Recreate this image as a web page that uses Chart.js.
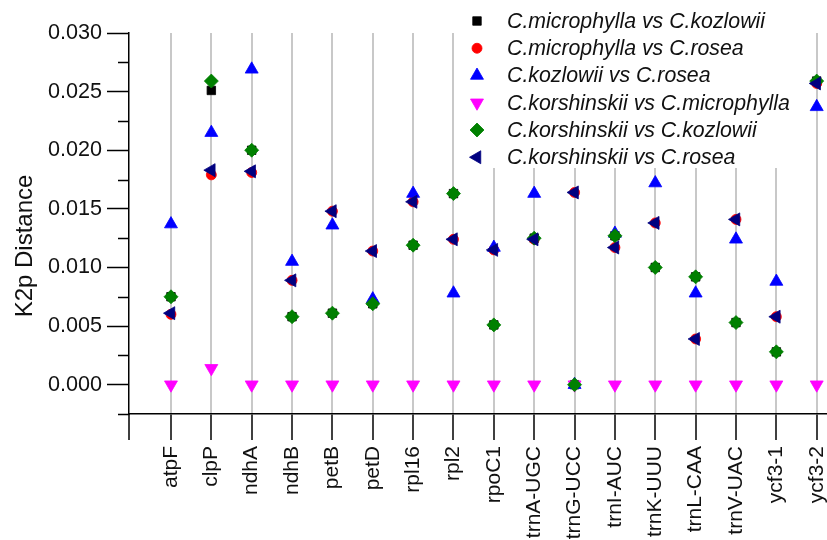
<!DOCTYPE html>
<html>
<head>
<meta charset="utf-8">
<script src="https://cdn.jsdelivr.net/npm/chart.js"></script>
<style>
  html, body { margin: 0; padding: 0; background: #ffffff; }
  #wrap { width: 827px; height: 540px; }
</style>
</head>
<body>
<div id="wrap"><canvas id="k2p" width="827" height="540"></canvas></div>
<script>
// Genes / intergenic regions on the x axis
const categories = ['atpF', 'clpP', 'ndhA', 'ndhB', 'petB', 'petD', 'rpl16', 'rpl2', 'rpoC1',
  'trnA-UGC', 'trnG-UCC', 'trnI-AUC', 'trnK-UUU', 'trnL-CAA', 'trnV-UAC', 'ycf3-1', 'ycf3-2'];

// Pairwise K2p distances per region
const microphyllaVsKozlowii = [0.0075, 0.0251, 0.0200, 0.0058, 0.0061, 0.0069, 0.0119, 0.0163, 0.0051,
  0.0125, 0.0000, 0.0127, 0.0100, 0.0092, 0.0053, 0.0028, 0.0259];
const microphyllaVsRosea = [0.0060, 0.0179, 0.0181, 0.0089, 0.0148, 0.0114, 0.0156, 0.0124, 0.0115,
  0.0124, 0.0164, 0.0117, 0.0138, 0.0039, 0.0141, 0.0058, 0.0257];
const kozlowiiVsRosea = [0.0137, 0.0215, 0.0269, 0.0105, 0.0136, 0.0073, 0.0163, 0.0078, 0.0117,
  0.0163, 0.0000, 0.0129, 0.0172, 0.0078, 0.0124, 0.0088, 0.0237];
const korshinskiiVsMicrophylla = [0.0000, 0.0014, 0.0000, 0.0000, 0.0000, 0.0000, 0.0000, 0.0000, 0.0000,
  0.0000, 0.0000, 0.0000, 0.0000, 0.0000, 0.0000, 0.0000, 0.0000];
const korshinskiiVsKozlowii = [0.0075, 0.0259, 0.0200, 0.0058, 0.0061, 0.0069, 0.0119, 0.0163, 0.0051,
  0.0125, 0.0000, 0.0127, 0.0100, 0.0092, 0.0053, 0.0028, 0.0259];
const korshinskiiVsRosea = [0.0061, 0.0183, 0.0182, 0.0089, 0.0148, 0.0114, 0.0156, 0.0124, 0.0115,
  0.0124, 0.0164, 0.0117, 0.0138, 0.0039, 0.0141, 0.0058, 0.0257];

const seriesNames = ['C.microphylla vs C.kozlowii', 'C.microphylla vs C.rosea', 'C.kozlowii vs C.rosea',
  'C.korshinskii vs C.microphylla', 'C.korshinskii vs C.kozlowii', 'C.korshinskii vs C.rosea'];

// Major y ticks (labelled) and the minor ticks between them
const yMajorTicks = [0.000, 0.005, 0.010, 0.015, 0.020, 0.025, 0.030];
const yMinorTicks = [-0.0025, 0.0025, 0.0075, 0.0125, 0.0175, 0.0225, 0.0275];

const FONT = '"Liberation Sans", Arial, sans-serif';

const seriesStyles = [
  { color: '#000000', pointStyle: 'rect', rotation: 0, radius: 6 },
  { color: '#ff0000', pointStyle: 'circle', rotation: 0, radius: 5 },
  { color: '#0000ff', pointStyle: 'triangle', rotation: 0, radius: 7.5 },
  { color: '#ff00ff', pointStyle: 'triangle', rotation: 180, radius: 7.5 },
  { color: '#008000', pointStyle: 'rectRot', rotation: 0, radius: 7 },
  { color: '#000080', pointStyle: 'triangle', rotation: -90, radius: 7.5 }
];

const seriesValues = [microphyllaVsKozlowii, microphyllaVsRosea, kozlowiiVsRosea,
  korshinskiiVsMicrophylla, korshinskiiVsKozlowii, korshinskiiVsRosea];

const datasets = seriesValues.map((vals, i) => ({
  label: seriesNames[i],
  data: categories.map((c, k) => ({ x: k, y: vals[k] })),
  pointStyle: seriesStyles[i].pointStyle,
  rotation: seriesStyles[i].rotation,
  pointRadius: seriesStyles[i].radius,
  backgroundColor: seriesStyles[i].color,
  borderColor: seriesStyles[i].color,
  borderWidth: 0.8,
  showLine: false,
  order: seriesValues.length - 1 - i   // later series drawn on top
}));

// Legend box in the upper right, drawn over the grid lines
const legendBox = { left: 466, top: 0, right: 806, bottom: 168, markerX: 477, textX: 507, firstRow: 21, rowStep: 27.25 };

const boxLegend = {
  id: 'boxLegend',
  beforeDatasetsDraw(chart) {
    const ctx = chart.ctx;
    ctx.save();
    ctx.fillStyle = '#ffffff';
    ctx.fillRect(legendBox.left, legendBox.top, legendBox.right - legendBox.left, legendBox.bottom - legendBox.top);
    ctx.restore();
  },
  afterDatasetsDraw(chart) {
    const ctx = chart.ctx;
    ctx.save();
    seriesNames.forEach((name, i) => {
      const y = legendBox.firstRow + legendBox.rowStep * i;
      const st = seriesStyles[i];
      ctx.fillStyle = st.color;
      ctx.strokeStyle = st.color;
      ctx.lineWidth = 0.8;
      Chart.helpers.drawPoint(ctx, { pointStyle: st.pointStyle, rotation: st.rotation, radius: st.radius, borderWidth: 0.8 }, legendBox.markerX, y);
      ctx.fillStyle = '#111111';
      ctx.font = 'italic 21.3px ' + FONT;
      ctx.textAlign = 'left';
      ctx.textBaseline = 'middle';
      ctx.fillText(name, legendBox.textX, y + 1);
    });
    ctx.restore();
  }
};

// Axis decorations: minor y ticks, y axis stub below the x axis, rotated y title
const axisExtras = {
  id: 'axisExtras',
  afterDraw(chart) {
    const ctx = chart.ctx;
    const area = chart.chartArea;
    const yScale = chart.scales.y;
    ctx.save();
    ctx.strokeStyle = '#000000';
    ctx.lineWidth = 1.5;
    ctx.beginPath();
    yMinorTicks.forEach(v => {
      const py = Math.round(yScale.getPixelForValue(v)) + 0.5;
      ctx.moveTo(area.left - 11, py);
      ctx.lineTo(area.left, py);
    });
    ctx.moveTo(area.left, area.bottom);
    ctx.lineTo(area.left, area.bottom + 26);
    ctx.stroke();

    ctx.translate(25, 246);
    ctx.rotate(-Math.PI / 2);
    ctx.fillStyle = '#111111';
    ctx.font = '24px ' + FONT;
    ctx.textAlign = 'center';
    ctx.textBaseline = 'middle';
    ctx.fillText('K2p Distance', 0, 0);
    ctx.restore();
  }
};

new Chart(document.getElementById('k2p'), {
  type: 'scatter',
  data: { datasets },
  plugins: [boxLegend, axisExtras],
  options: {
    responsive: false,
    devicePixelRatio: 1,
    animation: false,
    layout: { autoPadding: false, padding: { top: 33, right: 0, bottom: 0, left: 0 } },
    plugins: {
      legend: { display: false },
      tooltip: { enabled: false }
    },
    scales: {
      x: {
        type: 'linear',
        min: -1.04,
        max: 16.255,
        afterBuildTicks: s => { s.ticks = categories.map((c, k) => ({ value: k })); },
        afterFit: s => { s.height = 126; s.paddingLeft = 0; s.paddingRight = 0; },
        grid: { color: '#c8c8c8', lineWidth: 2, tickColor: '#000000', tickWidth: 1.5, tickLength: 26 },
        border: { color: '#000000', width: 1.5 },
        ticks: {
          autoSkip: false, maxRotation: 90, minRotation: 90, padding: 6,
          color: '#111111', font: { family: FONT, size: 21 },
          callback: v => categories[v] ?? ''
        }
      },
      y: {
        min: -0.0025,
        max: 0.030,
        afterBuildTicks: s => { s.ticks = yMajorTicks.map(v => ({ value: v })); },
        afterFit: s => { s.width = 129; s.paddingTop = 0; s.paddingBottom = 0; },
        grid: { drawOnChartArea: false, tickColor: '#000000', tickWidth: 1.5, tickLength: 22 },
        border: { color: '#000000', width: 1.5 },
        ticks: {
          padding: 5, color: '#111111', font: { family: FONT, size: 21.6 },
          callback: v => Number(v).toFixed(3)
        }
      }
    }
  }
});
</script>
</body>
</html>
